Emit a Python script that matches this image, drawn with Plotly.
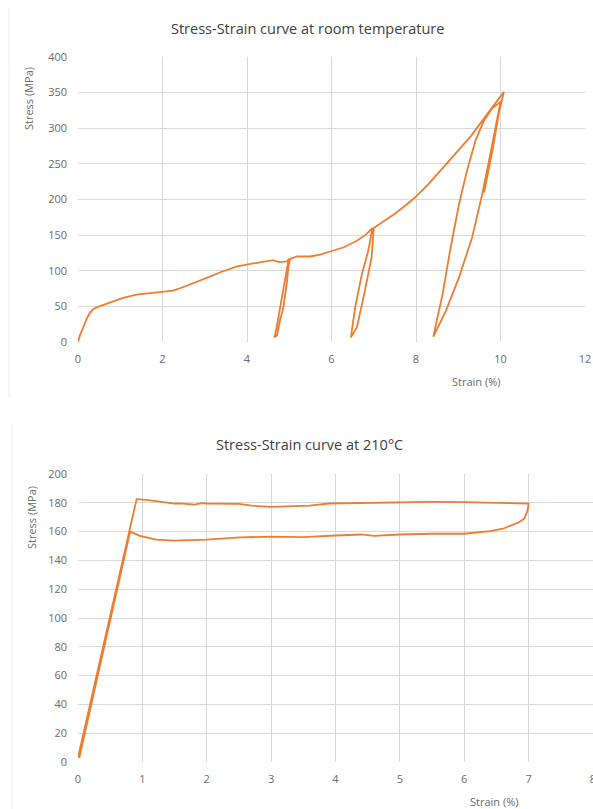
import plotly.graph_objects as go

# ---------- Room temperature cyclic test ----------
rt_strain = [0, 0.05, 0.12, 0.2, 0.28, 0.36, 0.44, 0.55, 0.76, 1.07, 1.38, 1.70, 2.01, 2.25,
             2.48, 2.80, 3.12, 3.43, 3.75, 3.99, 4.2, 4.38, 4.62, 4.70, 4.78, 4.94, 5.0,
             4.97, 4.90, 4.78, 4.70, 4.65,
             4.71, 4.78, 4.86, 4.94, 4.98, 5.02,
             5.18, 5.5, 5.73, 5.97, 6.29, 6.6, 6.8, 6.97,
             6.87, 6.72, 6.56, 6.46,
             6.60, 6.79, 6.95, 7.0,
             7.2, 7.5, 7.8, 8.0, 8.3, 8.6, 9.0, 9.3, 9.65, 9.9, 10.08,
             9.92, 9.76, 9.57, 9.33, 9.02, 8.71, 8.41,
             8.63, 8.82, 9.02, 9.21, 9.41, 9.61, 9.80, 10.0,
             9.78, 9.60, 9.62, 9.82, 10.01]
rt_stress = [0, 10, 20, 32, 41, 46, 48.6, 51, 55.7, 62, 66.5, 68.9, 71, 72,
             76.8, 83.8, 91.8, 99.3, 105.9, 108.7, 110.5, 113, 115, 113, 112, 113, 116.7,
             111, 86, 48.7, 20, 6.5,
             9, 30, 48.6, 81.5, 105, 116.7,
             120, 120, 122.8, 127, 133, 142, 150, 160,
             128, 95.6, 48.7, 6.5,
             20.5, 72, 119, 160,
             168, 180, 194, 204, 222, 242, 268, 289, 317, 337, 351,
             311, 264, 208, 147, 91, 44, 7.5,
             67.5, 133, 194, 241, 283, 311, 327.6, 337,
             270, 210, 212, 272, 338]

# ---------- 210 °C test ----------
ht_strain = [0.0, 0.91, 1.06, 1.2, 1.37, 1.5, 1.63, 1.81, 1.92, 2.0, 2.5, 2.7, 3.0, 3.3,
             3.6, 3.9, 4.5, 5.0, 5.5, 6.0, 6.5, 6.9, 7.0,
             6.98, 6.93, 6.85, 6.75, 6.6, 6.4, 6.2, 6.0, 5.5, 5.0, 4.6, 4.4, 4.0, 3.5,
             3.0, 2.52, 2.0, 1.74, 1.48, 1.22, 0.96, 0.81, 0.02]
ht_stress = [3, 182.5, 182, 181.2, 180.3, 179.5, 179.4, 178.7, 179.8, 179.5, 179.2, 178, 177.2,
             177.4, 178, 179.5, 180, 180.5, 180.6, 180.5, 180, 179.5, 179.5,
             174, 169, 166.5, 164.5, 162, 160.3, 159.5, 158.5, 158.5, 158, 157, 158, 157.3, 156.2,
             156.5, 156, 154.4, 154, 153.7, 154.4, 157, 160, 3]

top_title = "Stress-Strain curve at room temperature"
bot_title = "Stress-Strain curve at 210°C"
y_label = "Stress (MPa)"
x_label = "Strain (%)"

W, H = 593, 809
ORANGE = "#ED7D31"
GRID = "#d9d9d9"
TICK_COLOR = "#6b6b6b"
FONT = "Open Sans"


def px_x(p):
    return p / W


def px_y(p):
    return 1 - p / H


fig = go.Figure()
fig.add_trace(go.Scatter(x=rt_strain, y=rt_stress, mode="lines",
                         line=dict(color=ORANGE, width=1.8), xaxis="x", yaxis="y",
                         showlegend=False, hoverinfo="skip"))
fig.add_trace(go.Scatter(x=ht_strain, y=ht_stress, mode="lines",
                         line=dict(color=ORANGE, width=1.8), xaxis="x2", yaxis="y2",
                         showlegend=False, hoverinfo="skip"))

axis_common = dict(showgrid=True, gridcolor=GRID, gridwidth=1, zeroline=False,
                   showline=False, ticks="", tickfont=dict(family=FONT, size=11, color=TICK_COLOR),
                   fixedrange=True, automargin=False, ticklabeloverflow="allow")

fig.update_layout(
    width=W, height=H,
    margin=dict(l=0, r=0, t=0, b=0),
    paper_bgcolor="white", plot_bgcolor="white",
    showlegend=False,
    xaxis=dict(domain=[px_x(78), px_x(585)], range=[0, 12], dtick=2, anchor="y",
               ticklabelstandoff=9, **axis_common),
    yaxis=dict(domain=[px_y(342), px_y(57)], range=[0, 400], dtick=50, anchor="x",
               ticklabelstandoff=10, **axis_common),
    xaxis2=dict(domain=[px_x(78), 1.0], range=[0, 8], dtick=1, anchor="y2",
                ticklabelstandoff=9, **axis_common),
    yaxis2=dict(domain=[px_y(762), px_y(474)], range=[0, 200], dtick=20, anchor="x2",
                ticklabelstandoff=10, **axis_common),
)

ann = []
ann.append(dict(text=top_title, x=px_x(307), y=px_y(29), xref="paper", yref="paper",
                showarrow=False, font=dict(family=FONT, size=14.5, color="#404040"),
                xanchor="center", yanchor="middle"))
ann.append(dict(text=bot_title, x=px_x(309), y=px_y(445), xref="paper", yref="paper",
                showarrow=False, font=dict(family=FONT, size=14.5, color="#404040"),
                xanchor="center", yanchor="middle"))
ann.append(dict(text=y_label, x=px_x(29), y=px_y(99), xref="paper", yref="paper",
                showarrow=False, textangle=-90, font=dict(family=FONT, size=11, color=TICK_COLOR),
                xanchor="center", yanchor="middle"))
ann.append(dict(text=y_label, x=px_x(31), y=px_y(518), xref="paper", yref="paper",
                showarrow=False, textangle=-90, font=dict(family=FONT, size=11, color=TICK_COLOR),
                xanchor="center", yanchor="middle"))
ann.append(dict(text=x_label, x=px_x(476), y=px_y(381), xref="paper", yref="paper",
                showarrow=False, font=dict(family=FONT, size=11, color=TICK_COLOR),
                xanchor="center", yanchor="middle"))
ann.append(dict(text=x_label, x=px_x(494), y=px_y(801), xref="paper", yref="paper",
                showarrow=False, font=dict(family=FONT, size=11, color=TICK_COLOR),
                xanchor="center", yanchor="middle"))
fig.update_layout(annotations=ann)

# faint frame edges of the original chart boxes
fig.add_shape(type="line", xref="paper", yref="paper", x0=px_x(9), x1=px_x(9),
              y0=px_y(8), y1=px_y(398), line=dict(color="#eeeeee", width=1))
fig.add_shape(type="line", xref="paper", yref="paper", x0=px_x(12), x1=px_x(12),
              y0=px_y(423), y1=px_y(809), line=dict(color="#eeeeee", width=1))

fig.write_html("out.html", config={"displayModeBar": False},
               post_script="document.body.style.margin='0';document.body.style.overflow='hidden';")
